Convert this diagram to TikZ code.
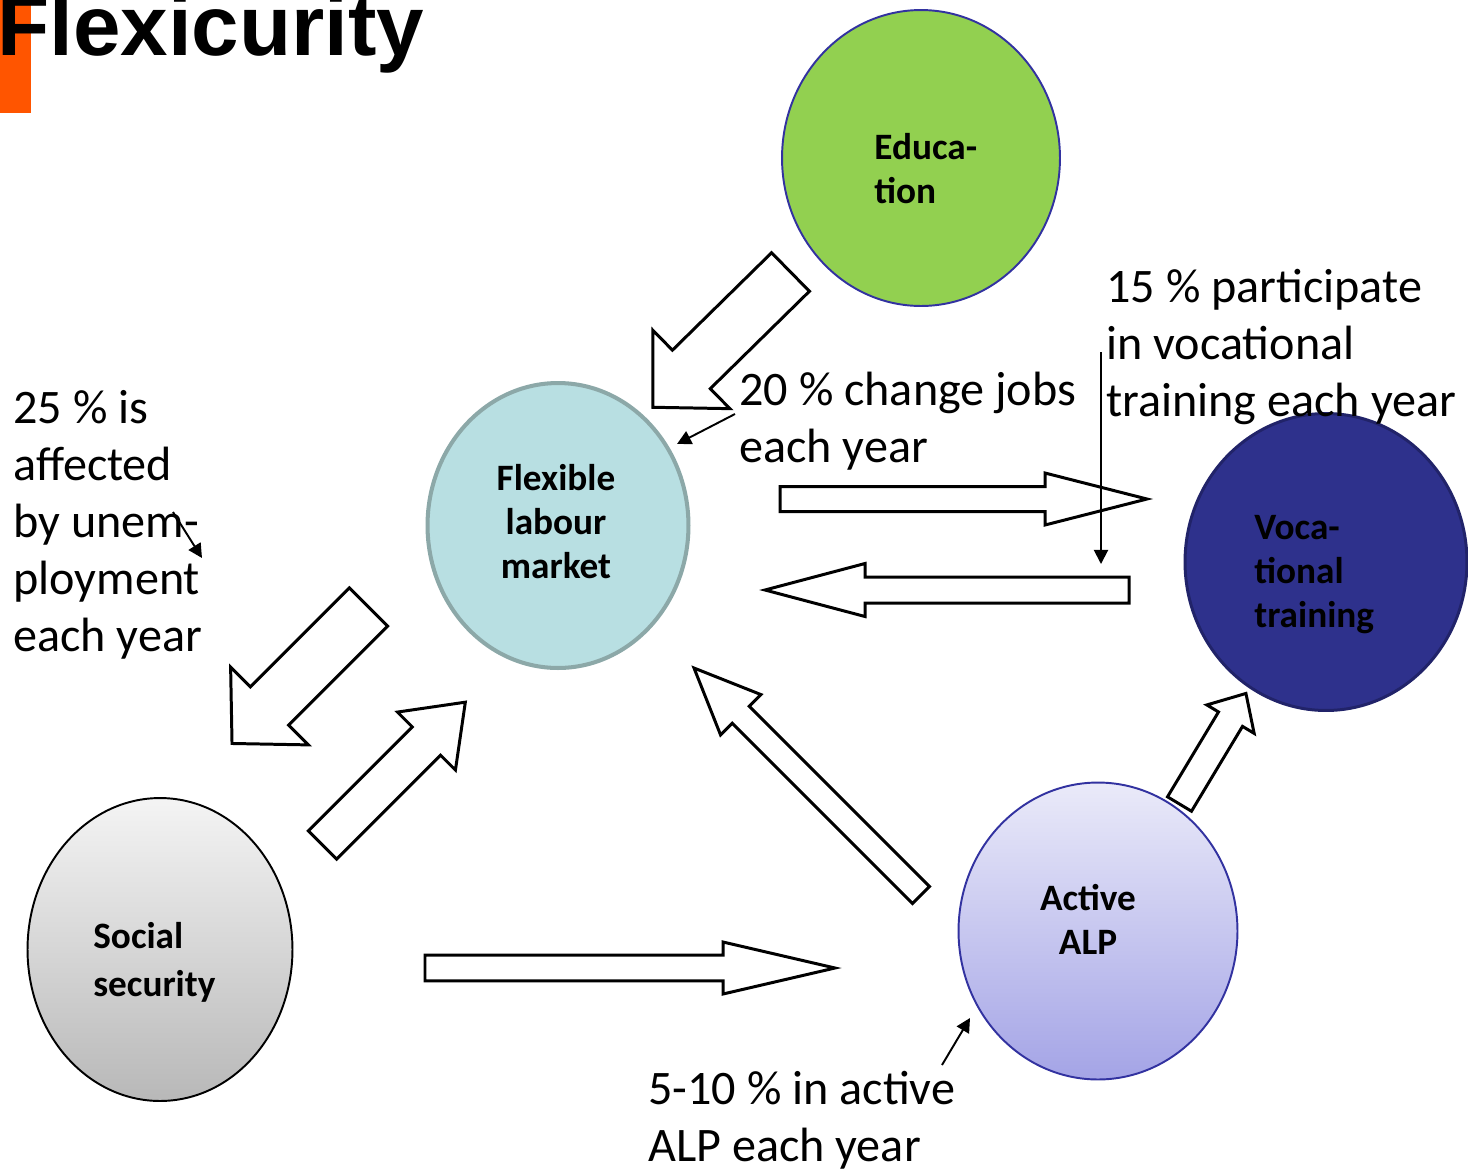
\documentclass[tikz,border=0pt]{standalone}
\usepackage{fontspec}
\setmainfont{Carlito}
\newfontfamily\titlefont{Liberation Sans}
\usetikzlibrary{shapes.geometric,arrows.meta}
\definecolor{barorange}{RGB}{255,85,0}
\definecolor{edugreen}{RGB}{146,208,80}
\definecolor{flexblue}{RGB}{184,223,226}
\definecolor{flexrim}{RGB}{140,168,168}
\definecolor{vocnavy}{RGB}{46,49,140}
\definecolor{vocrim}{RGB}{33,35,105}
\definecolor{rimblue}{RGB}{50,50,160}
\definecolor{alptop}{RGB}{234,234,249}
\definecolor{alpbottom}{RGB}{164,164,230}
\definecolor{socialtop}{RGB}{244,244,244}
\definecolor{socialbottom}{RGB}{184,184,184}

\tikzset{
  pool/.style={ellipse,inner sep=0pt},
  incircle/.style={inner sep=0pt,font=\fontsize{21.2}{25}\selectfont\bfseries},
  remark/.style={inner sep=0pt,anchor=base west,align=left,font=\fontsize{27.4}{32.4}\selectfont},
  blockarrow/.style={draw=black,fill=white,line width=1.7pt},
  pointer/.style={line width=1.1pt,-{Triangle[length=8pt,width=8pt]}}
}

\begin{document}
\begin{tikzpicture}[x=0.02cm,y=-0.02cm]
\useasboundingbox (0,0) rectangle (1468,1171);
\fill[barorange] (0,0) rectangle (31,113);
\node[anchor=base west,inner sep=0pt,font=\titlefont\bfseries\fontsize{48.6}{50}\selectfont] (title) at (-3,55) {Flexicurity};

% the five pools
\node[pool,draw=rimblue,line width=1.1pt,fill=edugreen,minimum width=5.56cm,minimum height=5.92cm] (edu) at (921,158) {};
\node[pool,draw=flexrim,line width=2.3pt,fill=flexblue,minimum width=5.22cm,minimum height=5.7cm] (flex) at (558,525.5) {};
\node[pool,draw=vocrim,line width=1.7pt,fill=vocnavy,minimum width=5.64cm,minimum height=5.94cm] (voc) at (1326,562) {};
\node[pool,draw=black,line width=1.1pt,top color=socialtop,bottom color=socialbottom,minimum width=5.3cm,minimum height=6.06cm] (social) at (160,949.5) {};
\node[pool,draw=rimblue,line width=1.1pt,top color=alptop,bottom color=alpbottom,minimum width=5.58cm,minimum height=5.94cm] (alp) at (1098,931) {};

% texts sit on the baseline of their last line
\node[incircle,anchor=base west,align=left] (edutext) at (874,203) {Educa-\\tion};
\node[incircle,anchor=base,align=center] (flextext) at (556,578) {Flexible\\labour\\market};
\node[incircle,anchor=base west,align=left] (voctext) at (1254,627) {Voca-\\tional\\training};
\node[incircle,anchor=base west,align=left,font=\fontsize{21.2}{27.3}\selectfont\bfseries] (socialtext) at (93,996) {Social\\security};
\node[incircle,anchor=base,align=center] (alptext) at (1088,954) {Active\\ALP};

% block arrows: tail x / tail y / angle / length / half shaft / half head / head length
\foreach \x/\y/\a/\l/\s/\h/\k in {790.5/272/224.5/193/27/55/54, 780/499/0/367/12.5/26/102,
    1129/590/180/364/13/26.5/100, 368.5/607/225/193/27/55/53, 322.5/845/45/202/20/41/55,
    425/968/0/410/12.8/26/112, 921/895/135/321/12/28.5/66, 1179.5/804/59/129/14/27.6/30}
  \draw[blockarrow,shift={(\x,\y)},rotate=\a] (0,-\s) -- ({\l-\k},-\s) -- ({\l-\k},-\h) -- (\l,0)
    -- ({\l-\k},\h) -- ({\l-\k},\s) -- (0,\s) -- cycle;

\node[remark] (unemp) at (13,651) {25 \% is\\affected\\by unem-\\ployment\\each year};
\node[remark] (jobs) at (739,462) {20 \% change jobs\\each year};
\node[remark] (vocshare) at (1106,416) {15 \% participate\\in vocational\\training each year};
\node[remark] (alpshare) at (648,1161) {5-10 \% in active\\ALP each year};

\coordinate (unempfrom) at (173,512);
\coordinate (unempto) at (202,558);
\coordinate (jobsfrom) at (735,414);
\coordinate (jobsto) at (677,444);
\coordinate (vocfrom) at (1101,352);
\coordinate (vocto) at (1101,564);
\coordinate (alpfrom) at (942,1065);
\coordinate (alpto) at (970,1018);
\draw[pointer] (unempfrom) -- (unempto);
\draw[pointer] (jobsfrom) -- (jobsto);
\draw[pointer] (vocfrom) -- (vocto);
\draw[pointer] (alpfrom) -- (alpto);
\end{tikzpicture}
\end{document}
